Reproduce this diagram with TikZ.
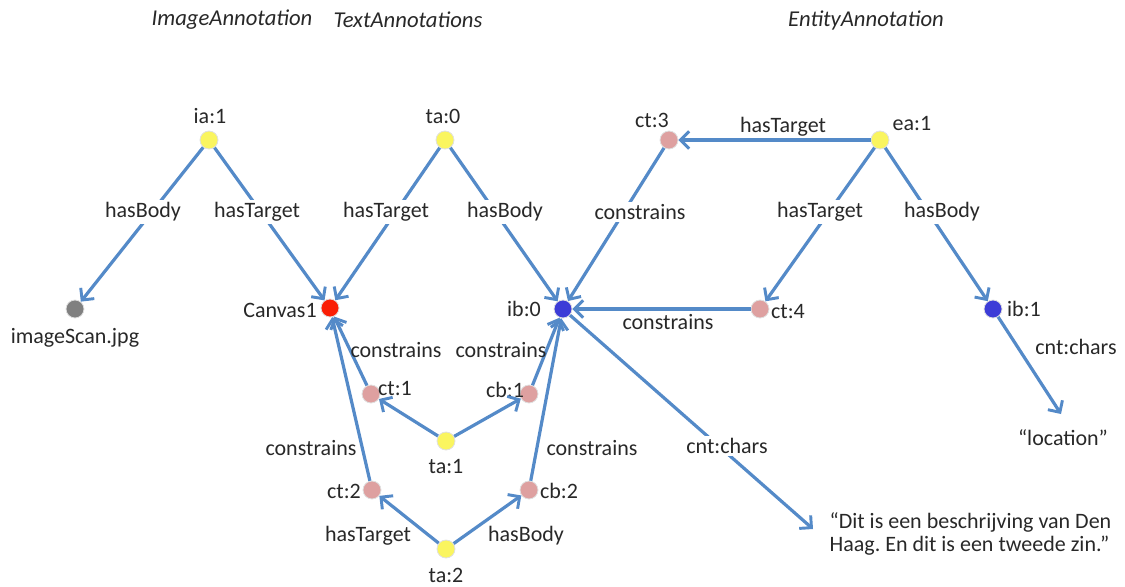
\documentclass[tikz,border=0pt]{standalone}
\usepackage{fontspec}
\setmainfont{Carlito}
\frenchspacing
\usetikzlibrary{arrows.meta}
\definecolor{edgec}{RGB}{84,138,200}
\definecolor{yel}{RGB}{250,245,95}
\definecolor{pink}{RGB}{222,160,160}
\definecolor{redd}{RGB}{250,30,5}
\definecolor{blu}{RGB}{60,60,215}
\definecolor{gry}{RGB}{128,128,128}
\definecolor{txt}{RGB}{40,40,40}
\begin{document}
\begin{tikzpicture}[x=0.75pt,y=-0.75pt,
  dot/.style={circle,inner sep=0pt,minimum size=13.5pt,draw=black!12,line width=0.6pt},
  arr/.style={draw=edgec,line width=2.4pt,-{Straight Barb[length=6.5pt,width=13pt,line width=2.2pt]}},
  lbl/.style={font=\fontsize{16.5}{19}\selectfont,text=txt,inner sep=1pt},
  elbl/.style={lbl,fill=white,inner sep=2pt},
  head/.style={font=\fontsize{17}{20}\selectfont\itshape,text=txt}]
\useasboundingbox (0,0) rectangle (1125,586);

% headings
\node[head] (h1) at (232,20) {ImageAnnotation};
\node[head] (h2) at (408,20) {TextAnnotations};
\node[head] (h3) at (866,20) {EntityAnnotation};

% dots
\node[dot,fill=yel] (ia1) at (209,140) {};
\node[dot,fill=yel] (ta0) at (445,140) {};
\node[dot,fill=pink] (ct3) at (669,140) {};
\node[dot,fill=yel] (ea1) at (880,140) {};
\node[dot,fill=gry] (img) at (75,309) {};
\node[dot,fill=redd] (can) at (330,308) {};
\node[dot,fill=blu] (ib0) at (563,309) {};
\node[dot,fill=pink] (ct4) at (760,309) {};
\node[dot,fill=blu] (ib1) at (993,309) {};
\node[dot,fill=pink] (ct1) at (371,394) {};
\node[dot,fill=pink] (cb1) at (529,394) {};
\node[dot,fill=yel] (ta1) at (446,441) {};
\node[dot,fill=pink] (ct2) at (372,490) {};
\node[dot,fill=pink] (cb2) at (529,490) {};
\node[dot,fill=yel] (ta2) at (446,549) {};

% node names
\node[lbl] (l-ia1) at (210,116) {ia:1};
\node[lbl] (l-ta0) at (443,116) {ta:0};
\node[lbl] (l-ct3) at (652,120) {ct:3};
\node[lbl] (l-ea1) at (912,124) {ea:1};
\node[lbl] (l-img) at (75,338) {imageScan.jpg};
\node[lbl] (l-can) at (280,310) {Canvas1};
\node[lbl] (l-ib0) at (524,309) {ib:0};
\node[lbl] (l-ct4) at (788,312) {ct:4};
\node[lbl] (l-ib1) at (1024,309) {ib:1};
\node[lbl] (l-ct1) at (395,388) {ct:1};
\node[lbl] (l-cb1) at (505,390) {cb:1};
\node[lbl] (l-ta1) at (446,466) {ta:1};
\node[lbl] (l-ct2) at (344,491) {ct:2};
\node[lbl] (l-cb2) at (559,491) {cb:2};
\node[lbl] (l-ta2) at (446,575) {ta:2};
\node[lbl] (loc) at (1063,438) {``location''};
\node[lbl,align=left,anchor=west] (dit) at (828,534) {``Dit is een beschrijving van Den\\[-2pt]Haag. En dit is een tweede zin.''};
\coordinate (dittip) at (813,529);
\coordinate (loctip) at (1061,414);

% edges
\draw[arr] (ia1) -- (img);
\draw[arr] (ia1) -- (can);
\draw[arr] (ta0) -- (can);
\draw[arr] (ta0) -- (ib0);
\draw[arr] (ct3) -- (ib0);
\draw[arr] (ea1) -- (ct3);
\draw[arr] (ea1) -- (ct4);
\draw[arr] (ea1) -- (ib1);
\draw[arr] (ct4) -- (ib0);
\draw[arr] (ib1) -- (loctip);
\draw[arr] (ib0) -- (dittip);
\draw[arr] (ct1) -- (can);
\draw[arr] (ct2) -- (can);
\draw[arr] (cb1) -- (ib0);
\draw[arr] (cb2) -- (ib0);
\draw[arr] (ta1) -- (ct1);
\draw[arr] (ta1) -- (cb1);
\draw[arr] (ta2) -- (ct2);
\draw[arr] (ta2) -- (cb2);

% edge labels
\node[elbl] (e1) at (143,212) {hasBody};
\node[elbl] (e2) at (257,212) {hasTarget};
\node[elbl] (e3) at (386,212) {hasTarget};
\node[elbl] (e4) at (505,212) {hasBody};
\node[elbl] (e5) at (640,212) {constrains};
\node[lbl] (e6) at (783,127) {hasTarget};
\node[elbl] (e7) at (820,212) {hasTarget};
\node[elbl] (e8) at (942,212) {hasBody};
\node[lbl] (e9) at (668,322) {constrains};
\node[lbl] (e10) at (1076,347) {cnt:chars};
\node[elbl] (e11) at (727,446) {cnt:chars};
\node[lbl] (e12) at (396,350) {constrains};
\node[lbl] (e13) at (501,350) {constrains};
\node[lbl] (e14) at (311,448) {constrains};
\node[lbl] (e15) at (592,448) {constrains};
\node[lbl] (e16) at (368,536) {hasTarget};
\node[lbl] (e17) at (526,536) {hasBody};
\end{tikzpicture}
\end{document}
